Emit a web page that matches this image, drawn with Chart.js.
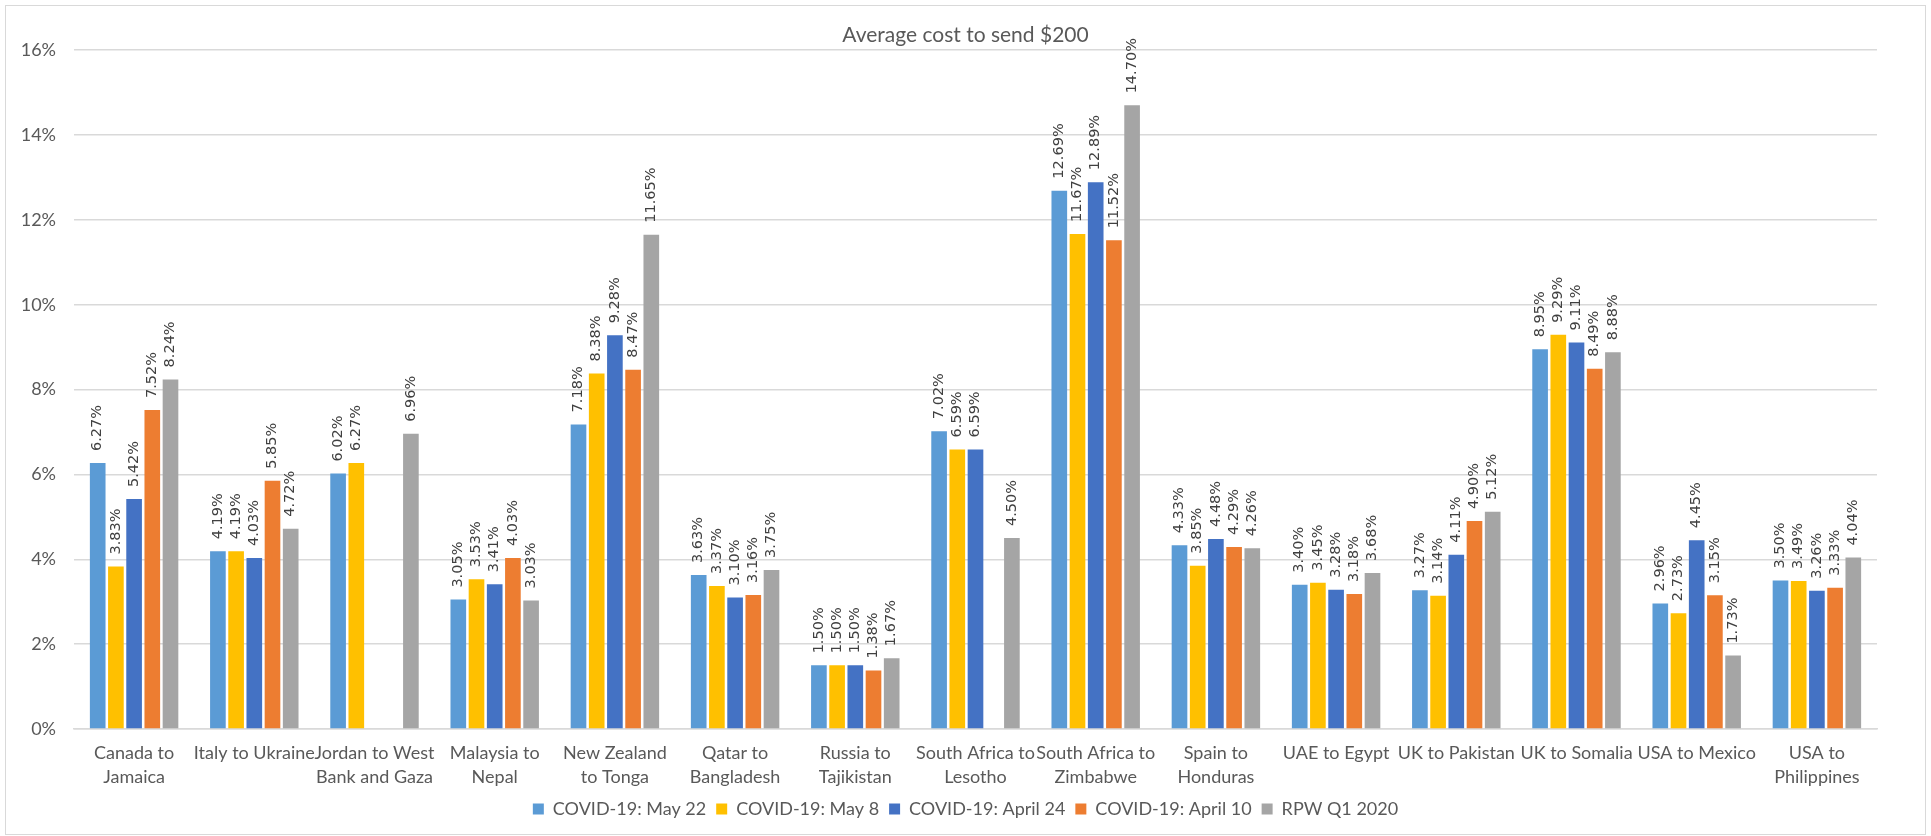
<!DOCTYPE html>
<html>
<head>
<meta charset="utf-8">
<script src="https://cdn.jsdelivr.net/npm/chart.js@4.4.1/dist/chart.umd.min.js"></script>
<style>
  html, body { margin: 0; padding: 0; background: #fff; }
  #wrap {
    position: absolute; left: 5px; top: 5px;
    width: 1921px; height: 830px;
    border: 1px solid #d9d9d9; box-sizing: border-box;
  }
  #chart { display: block; }
</style>
</head>
<body>
<div id="wrap"><canvas id="chart" width="1919" height="828"></canvas></div>
<script>
// categories (corridors)
var corridors = [
    ['Canada to', 'Jamaica'],
    'Italy to Ukraine',
    ['Jordan to West', 'Bank and Gaza'],
    ['Malaysia to', 'Nepal'],
    ['New Zealand', 'to Tonga'],
    ['Qatar to', 'Bangladesh'],
    ['Russia to', 'Tajikistan'],
    ['South Africa to', 'Lesotho'],
    ['South Africa to', 'Zimbabwe'],
    ['Spain to', 'Honduras'],
    'UAE to Egypt',
    'UK to Pakistan',
    'UK to Somalia',
    'USA to Mexico',
    ['USA to', 'Philippines']
];

// average cost in % of $200
var may22   = [6.27, 4.19, 6.02, 3.05, 7.18, 3.63, 1.50, 7.02, 12.69, 4.33, 3.40, 3.27, 8.95, 2.96, 3.50];
var may8    = [3.83, 4.19, 6.27, 3.53, 8.38, 3.37, 1.50, 6.59, 11.67, 3.85, 3.45, 3.14, 9.29, 2.73, 3.49];
var april24 = [5.42, 4.03, null, 3.41, 9.28, 3.10, 1.50, 6.59, 12.89, 4.48, 3.28, 4.11, 9.11, 4.45, 3.26];
var april10 = [7.52, 5.85, null, 4.03, 8.47, 3.16, 1.38, null, 11.52, 4.29, 3.18, 4.90, 8.49, 3.15, 3.33];
var rpwQ1   = [8.24, 4.72, 6.96, 3.03, 11.65, 3.75, 1.67, 4.50, 14.70, 4.26, 3.68, 5.12, 8.88, 1.73, 4.04];

var yTicks = [0, 2, 4, 6, 8, 10, 12, 14, 16];

function series(label, data, color) {
    return {
        label: label,
        data: data,
        backgroundColor: color,
        borderWidth: 0,
        barPercentage: 0.86,
        categoryPercentage: 0.757
    };
}

// rotated value labels above each bar
var barLabels = {
    id: 'barLabels',
    afterDatasetsDraw: function(chart) {
        var ctx = chart.ctx;
        ctx.save();
        ctx.font = '14.5px "DejaVu Sans"';
        ctx.fillStyle = '#404040';
        ctx.textAlign = 'left';
        ctx.textBaseline = 'middle';
        chart.data.datasets.forEach(function(ds, i) {
            chart.getDatasetMeta(i).data.forEach(function(bar, j) {
                var v = ds.data[j];
                if (v === null || v === undefined) return;
                ctx.save();
                ctx.translate(bar.x, bar.y - 12);
                ctx.rotate(-Math.PI / 2);
                ctx.fillText(v.toFixed(2) + '%', 0, 0);
                ctx.restore();
            });
        });
        ctx.restore();
    }
};

var ctx = document.getElementById('chart').getContext('2d');
var chart = new Chart(ctx, {
    type: 'bar',
    data: {
        labels: corridors,
        datasets: [
            series('COVID-19: May 22', may22, '#5B9BD5'),
            series('COVID-19: May 8', may8, '#FFC000'),
            series('COVID-19: April 24', april24, '#4472C4'),
            series('COVID-19: April 10', april10, '#ED7D31'),
            series('RPW Q1 2020', rpwQ1, '#A5A5A5')
        ]
    },
    options: {
        responsive: false,
        animation: false,
        layout: { padding: { left: 0, right: 0, top: 17, bottom: 6 } },
        plugins: {
            title: {
                display: true,
                text: 'Average cost to send $200',
                color: '#595959',
                font: { family: 'Lato', size: 21, weight: 'normal' },
                padding: { top: 0, bottom: 2 }
            },
            legend: {
                position: 'bottom',
                labels: {
                    color: '#595959',
                    font: { family: 'Lato', size: 18 },
                    boxWidth: 11,
                    boxHeight: 11,
                    padding: 10
                }
            },
            tooltip: { enabled: false }
        },
        scales: {
            x: {
                afterFit: function(s) { s.height = 61; },
                grid: { display: false, drawTicks: false },
                border: { color: '#d9d9d9', width: 1.5 },
                ticks: {
                    color: '#595959',
                    font: { family: 'Lato', size: 18, lineHeight: 1.333 },
                    padding: 12,
                    maxRotation: 0,
                    autoSkip: false
                }
            },
            y: {
                min: 0,
                max: 16,
                afterFit: function(s) { s.width = 68; },
                afterBuildTicks: function(axis) {
                    axis.ticks = yTicks.map(function(v) { return { value: v }; });
                },
                grid: { color: '#d9d9d9', lineWidth: 1.5, drawTicks: false },
                border: { display: false },
                ticks: {
                    color: '#595959',
                    font: { family: 'Lato', size: 18 },
                    padding: 18,
                    callback: function(v) { return v + '%'; }
                }
            },
            // empty spacer on the right so the plot ends where the reference does
            spacer: {
                type: 'linear',
                position: 'right',
                afterFit: function(s) { s.width = 48; },
                grid: { display: false, drawTicks: false },
                border: { display: false },
                ticks: { display: false }
            }
        }
    },
    plugins: [barLabels]
});
</script>
</body>
</html>
